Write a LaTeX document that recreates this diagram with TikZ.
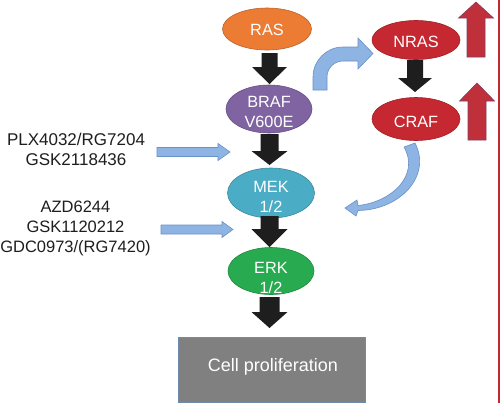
\documentclass[tikz,border=0pt]{standalone}
\usepackage{fontspec}
\setmainfont{Liberation Sans}
\usetikzlibrary{shapes.geometric}
\definecolor{rasC}{RGB}{236,123,52}
\definecolor{brafC}{RGB}{128,100,162}
\definecolor{mekC}{RGB}{75,172,198}
\definecolor{erkC}{RGB}{40,170,80}
\definecolor{redC}{RGB}{198,40,50}
\definecolor{blkC}{RGB}{30,30,30}
\definecolor{blueF}{RGB}{141,180,226}
\definecolor{blueD}{RGB}{105,145,200}
\definecolor{redA}{RGB}{192,48,58}
\definecolor{redD}{RGB}{130,60,100}
\definecolor{grayC}{RGB}{128,128,128}
\definecolor{txtC}{RGB}{30,30,30}
\tikzset{
  oval/.style={ellipse, inner sep=0pt, line width=0.6pt},
  ovaltext/.style={text=white, align=center, font=\fontsize{16.3}{20}\selectfont, inner sep=0pt},
  blk/.style={fill=blkC},
  bluearrow/.style={fill=blueF, draw=blueD, line width=0.6pt, line join=miter},
  redarrow/.style={fill=redA, draw=redD, line width=0.6pt},
  drug/.style={text=txtC, align=center, font=\fontsize{17}{20}\selectfont, inner sep=0pt}
}
\newcommand\blkarrow[6]{%
  \fill[blk] ({#1-#5},#2) -- ({#1+#5},#2) -- ({#1+#5},#3) -- ({#1+#6},#3) -- (#1,#4) -- ({#1-#6},#3) -- ({#1-#5},#3) -- cycle;}
\newcommand\redup[6]{% cx, ytip, ybase, ybottom, shaft half, head half
  \filldraw[redarrow] ({#1-#5},#4) -- ({#1+#5},#4) -- ({#1+#5},#3) -- ({#1+#6},#3) -- (#1,#2) -- ({#1-#6},#3) -- ({#1-#5},#3) -- cycle;}
\newcommand\blueright[6]{% xstart, yc, xbase, xtip, shaft half, head half
  \filldraw[bluearrow] (#1,{#2-#5}) -- (#3,{#2-#5}) -- (#3,{#2-#6}) -- (#4,#2) -- (#3,{#2+#6}) -- (#3,{#2+#5}) -- (#1,{#2+#5}) -- cycle;}
\begin{document}
\begin{tikzpicture}[x=1pt,y=-1pt]
\useasboundingbox (0,0) rectangle (503,405);
\fill[white] (0,0) rectangle (503,405);

% main column ovals
\node[oval, fill=rasC, draw=rasC!80!black, minimum width=89pt, minimum height=42pt] (ras) at (267,29) {};
\node[ovaltext] (rast) at (267,30) {RAS};
\node[oval, fill=brafC, draw=brafC!80!black, minimum width=86pt, minimum height=48pt] (braf) at (269,109) {};
\node[ovaltext] (braft) at (269,112) {BRAF\\V600E};
\node[oval, fill=mekC, draw=mekC!80!black, minimum width=87pt, minimum height=50pt] (mek) at (271,193) {};
\node[ovaltext] (mekt) at (271,197) {MEK\\1/2};
\node[oval, fill=erkC, draw=erkC!80!black, minimum width=86pt, minimum height=47pt] (erk) at (271,271) {};
\node[ovaltext] (erkt) at (271,278) {ERK\\1/2};
\node[fill=grayC, draw=blueD!60!grayC, line width=0.6pt, minimum width=187pt, minimum height=65pt, inner sep=0pt] (cell) at (271.5,369.5) {};
\node[text=white, font=\fontsize{18}{20}\selectfont, inner sep=0pt] (cellt) at (273,367) {Cell proliferation};

% right column ovals
\node[oval, fill=redC, draw=redC!80!black, minimum width=88pt, minimum height=39pt] (nras) at (416,40) {};
\node[ovaltext] (nrast) at (416,42) {NRAS};
\node[oval, fill=redC, draw=redC!80!black, minimum width=88pt, minimum height=43pt] (craf) at (416,119) {};
\node[ovaltext] (craft) at (416,122) {CRAF};

% black block arrows
\blkarrow{269.5}{53}{67}{84}{8}{17.5}
\blkarrow{269.5}{134}{151}{165}{9}{18}
\blkarrow{269.5}{216}{229}{247}{9}{18}
\blkarrow{269.5}{297}{312}{328}{10}{18}
\blkarrow{415}{60}{78}{92}{8}{17}

% red up arrows
\redup{476}{2}{18}{57}{9}{17.5}
\redup{477}{83}{101}{140}{9}{17.5}
% red vertical line
\draw[redC, line width=2.5pt] (499,0) -- (499,403);

% drug labels
\node[drug] (drug1) at (76,149) {PLX4032/RG7204\\GSK2118436};
\node[drug, font=\fontsize{16.5}{20}\selectfont] (drug2) at (75.5,228) {AZD6244\\GSK1120212\\GDC0973/(RG7420)};
\blueright{157}{152}{218}{230}{4.5}{8.5}
\blueright{161}{229.5}{222}{233}{4.5}{8}

% bent arrow BRAF -> NRAS
\filldraw[bluearrow] (313,90) -- (313,77) arc[start angle=180, end angle=270, radius=30] -- (358,47) -- (358,38) -- (373,53.5) -- (358,69) -- (358,61) -- (343,61) arc[start angle=270, end angle=180, radius=16] -- (327,90) -- cycle;

% curved arrow CRAF -> MEK
\filldraw[bluearrow] (404,147) -- (415,143) .. controls (432,176) and (400,210) .. (358,210.5)
  -- (356,216) -- (345,208) -- (357,200) -- (358,205.5)
  .. controls (392,202) and (420,175) .. (404,147) -- cycle;
\end{tikzpicture}
\end{document}
